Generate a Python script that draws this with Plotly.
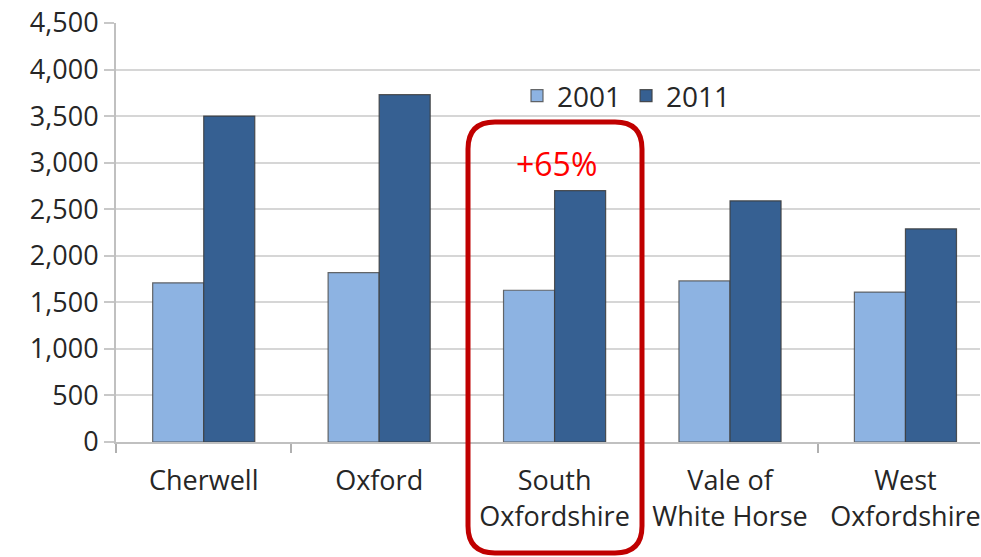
import plotly.graph_objects as go

categories = ["Cherwell", "Oxford", "South<br>Oxfordshire", "Vale of<br>White Horse", "West<br>Oxfordshire"]
values_2001 = [1710, 1820, 1630, 1730, 1610]
values_2011 = [3500, 3730, 2700, 2590, 2290]
series_names = ["2001", "2011"]
y_ticks = [0, 500, 1000, 1500, 2000, 2500, 3000, 3500, 4000, 4500]
highlight_label = "+65%"

W, H = 981, 557
ML, MR, MT, MB = 116, 1, 23, 115
FONT = "Open Sans"
TXT = "#262626"

fig = go.Figure()
fig.add_trace(go.Bar(x=categories, y=values_2001, name=series_names[0],
                     marker=dict(color="#8DB3E2", line=dict(color="rgba(80,80,80,0.85)", width=1.2))))
fig.add_trace(go.Bar(x=categories, y=values_2011, name=series_names[1],
                     marker=dict(color="#366092", line=dict(color="rgba(60,60,60,0.85)", width=1.2))))

# helper: pixel -> paper coordinates
pw = W - ML - MR
ph = H - MT - MB
def px(xp):
    return (xp - ML) / pw
def py(yp):
    return (H - MB - yp) / ph

# rounded highlight rectangle around South Oxfordshire
x0, x1, y0, y1, r = 468, 642, 122, 553, 27
path = (f"M {px(x0 + r)} {py(y0)} L {px(x1 - r)} {py(y0)} "
        f"Q {px(x1)} {py(y0)} {px(x1)} {py(y0 + r)} "
        f"L {px(x1)} {py(y1 - r)} Q {px(x1)} {py(y1)} {px(x1 - r)} {py(y1)} "
        f"L {px(x0 + r)} {py(y1)} Q {px(x0)} {py(y1)} {px(x0)} {py(y1 - r)} "
        f"L {px(x0)} {py(y0 + r)} Q {px(x0)} {py(y0)} {px(x0 + r)} {py(y0)} Z")
fig.add_shape(type="path", path=path, xref="paper", yref="paper",
              line=dict(color="#C00000", width=5), layer="above")

fig.add_annotation(x=categories[2], y=2990, xref="x", yref="y", text=highlight_label,
                   showarrow=False, xshift=2, yanchor="middle",
                   font=dict(family=FONT, size=32, color="#FF0000"))

fig.update_layout(
    width=W, height=H,
    margin=dict(l=ML, r=MR, t=MT, b=MB, pad=0),
    paper_bgcolor="white", plot_bgcolor="white",
    barmode="group", bargap=0.418, bargroupgap=0,
    font=dict(family=FONT, size=27, color=TXT),
    legend=dict(orientation="h", x=px(517), y=py(96), xanchor="left", yanchor="middle",
                bgcolor="rgba(0,0,0,0)", font=dict(size=28, color=TXT),
                itemwidth=30, tracegroupgap=0),
    showlegend=True,
)
fig.update_xaxes(range=[-0.5, 4.425], showgrid=False, showline=True, linecolor="#C0C0C0", linewidth=2,
                 ticks="outside", tickson="boundaries", ticklen=9, tickcolor="#B0B0B0", tickwidth=2,
                 ticklabelstandoff=14,
                 tickfont=dict(family=FONT, size=27, color=TXT))
fig.update_yaxes(range=[0, 4500], tickvals=y_ticks, tickformat=",", showgrid=True,
                 gridcolor="#D6D6D6", gridwidth=2, showline=True, linecolor="#C0C0C0", linewidth=2,
                 ticks="outside", ticklen=10, tickcolor="#C8C8C8", tickwidth=2, zeroline=False,
                 tickfont=dict(family=FONT, size=27, color=TXT))

fig.write_html("out.html")
